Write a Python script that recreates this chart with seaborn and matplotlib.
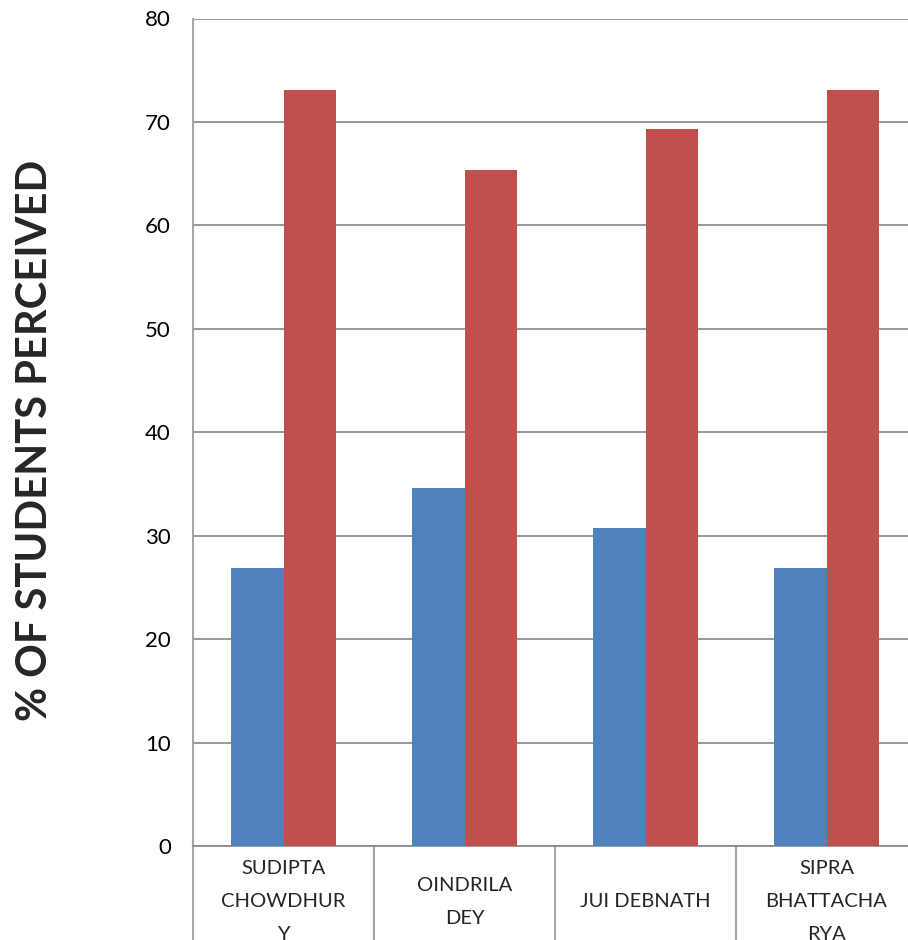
import pandas as pd
import seaborn as sns
import matplotlib.pyplot as plt

# Data
teachers = ['SUDIPTA\nCHOWDHUR\nY', 'OINDRILA\nDEY', 'JUI DEBNATH', 'SIPRA\nBHATTACHA\nRYA']
series_names = ['Series 1', 'Series 2']
series_1 = [26.9, 34.6, 30.7, 26.9]
series_2 = [73.1, 65.4, 69.3, 73.1]
y_ticks = [0, 10, 20, 30, 40, 50, 60, 70, 80]

df = pd.DataFrame({
    'teacher': teachers * 2,
    'series': [series_names[0]] * 4 + [series_names[1]] * 4,
    'value': series_1 + series_2,
})

sns.set_style('white')
plt.rcParams['font.family'] = ['Lato', 'DejaVu Sans']

fig = plt.figure(figsize=(9.08, 9.40), dpi=100)
ax = fig.add_axes([193 / 908, 94 / 940, 724 / 908, 827.5 / 940])

sns.barplot(data=df, x='teacher', y='value', hue='series', ax=ax,
            palette=['#4F81BD', '#C0504D'], saturation=1, width=0.575,
            linewidth=0, legend=False, zorder=3)

ax.set_xlim(-0.5, 3.5)
ax.set_ylim(0, 80)
ax.set_yticks(y_ticks)
ax.yaxis.grid(True, color='#878787', linewidth=1.2, zorder=0)
ax.set_axisbelow(True)

for side in ['top', 'right']:
    ax.spines[side].set_visible(False)
ax.spines['left'].set_color('#A6A6A6')
ax.spines['left'].set_linewidth(1.5)
ax.spines['bottom'].set_color('#878787')
ax.spines['bottom'].set_linewidth(1.2)

# category separators below the axis
trans = ax.get_xaxis_transform()
for xb in [-0.5, 0.5, 1.5, 2.5]:
    ax.plot([xb, xb], [0, -0.15], transform=trans, color='#A6A6A6',
            linewidth=1.5, clip_on=False)

ax.tick_params(axis='both', length=0)
ax.tick_params(axis='y', labelsize=16, pad=16)
ax.tick_params(axis='x', labelsize=14.5, pad=40)
for lbl in ax.get_xticklabels():
    lbl.set_linespacing(2.15)
    lbl.set_verticalalignment('center')
for lbl in ax.get_yticklabels():
    lbl.set_color('black')

ax.set_xlabel('')
ax.set_ylabel('% OF STUDENTS PERCEIVED', fontsize=30, fontweight='bold', va='center')
ax.yaxis.set_label_coords(-158 / 724, 0.49)

plt.savefig('out.png', dpi=100)
